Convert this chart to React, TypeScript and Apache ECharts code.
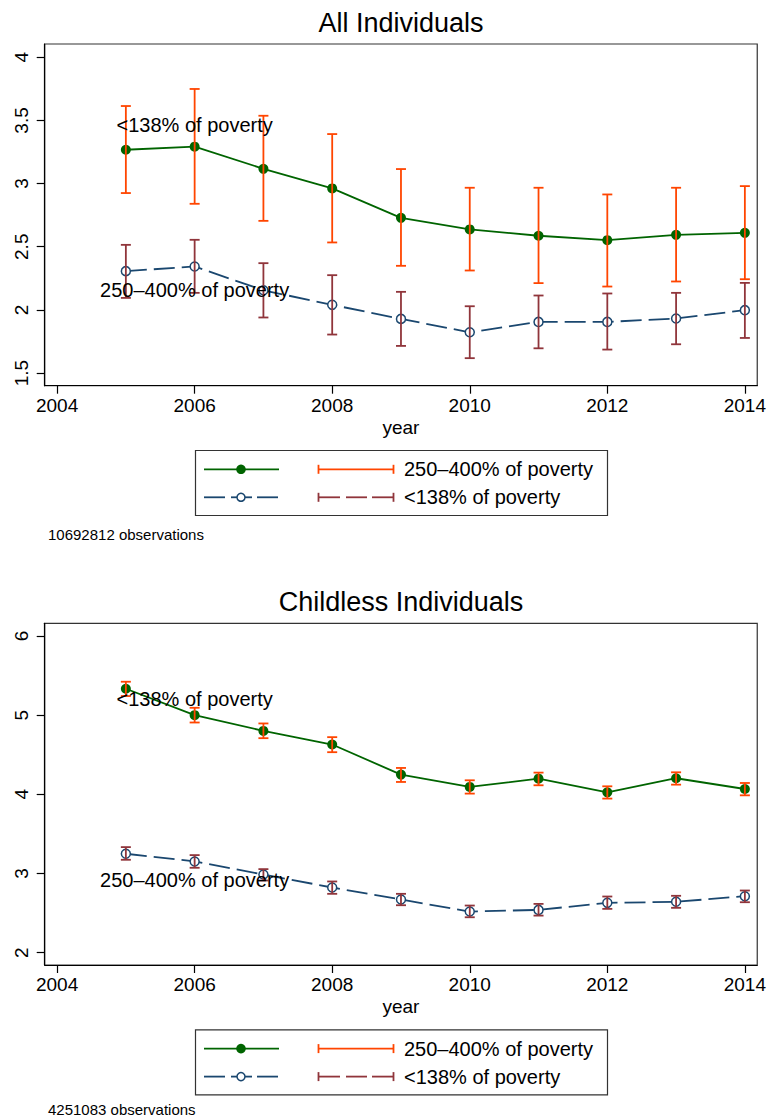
import React, { useEffect, useRef } from "react";
import * as echarts from "echarts";

// Survey years
const years = [2005, 2006, 2007, 2008, 2009, 2010, 2011, 2012, 2013, 2014];
const xTicks = [2004, 2006, 2008, 2010, 2012, 2014];

// All individuals
const allGreen = [3.268, 3.292, 3.117, 2.962, 2.729, 2.637, 2.587, 2.552, 2.594, 2.61];
const allGreenLo = [2.925, 2.84, 2.705, 2.534, 2.349, 2.312, 2.212, 2.185, 2.225, 2.243];
const allGreenHi = [3.614, 3.749, 3.537, 3.392, 3.115, 2.967, 2.967, 2.914, 2.967, 2.98];
const allBlue = [2.307, 2.344, 2.155, 2.04, 1.929, 1.823, 1.905, 1.905, 1.932, 1.998];
const allBlueLo = [2.095, 2.135, 1.94, 1.805, 1.715, 1.618, 1.696, 1.686, 1.728, 1.778];
const allBlueHi = [2.515, 2.555, 2.37, 2.275, 2.143, 2.029, 2.114, 2.13, 2.135, 2.214];
const allYTicks = [1.5, 2, 2.5, 3, 3.5, 4];

// Childless individuals
const clGreen = [5.333, 5.0, 4.801, 4.629, 4.249, 4.093, 4.198, 4.025, 4.203, 4.067];
const clGreenLo = [5.241, 4.907, 4.709, 4.532, 4.156, 4.009, 4.114, 3.946, 4.122, 3.987];
const clGreenHi = [5.422, 5.093, 4.895, 4.722, 4.333, 4.177, 4.274, 4.101, 4.278, 4.143];
const clBlue = [3.249, 3.152, 2.987, 2.823, 2.671, 2.519, 2.54, 2.629, 2.642, 2.713];
const clBlueLo = [3.173, 3.072, 2.911, 2.743, 2.599, 2.447, 2.468, 2.553, 2.566, 2.637];
const clBlueHi = [3.333, 3.232, 3.055, 2.899, 2.743, 2.595, 2.616, 2.709, 2.718, 2.785];
const clYTicks = [2, 3, 4, 5, 6];

// In-plot text labels: [year, value]
const labelLow = "<138% of poverty";
const labelMid = "250\u2013400% of poverty";
const allLabelPos = { low: [2006, 3.46], mid: [2006, 2.16] };
const clLabelPos = { low: [2006, 5.21], mid: [2006, 2.92] };

const titles = ["All Individuals", "Childless Individuals"];
const notes = ["10692812 observations", "4251083 observations"];

const GREEN = "#006400";
const ORANGE = "#ff4500";
const NAVY = "#1a476f";
const MAROON = "#90353b";
const FONT = "Liberation Sans, Arial, Helvetica, sans-serif";

const CAP = 5;

function errorBars(color: string, lo: number[], hi: number[], gi: number) {
  return {
    type: "custom",
    xAxisIndex: gi,
    yAxisIndex: gi,
    z: 4,
    data: years.map((y, i) => [y, lo[i], hi[i]]),
    encode: { x: 0, y: [1, 2] },
    renderItem: (_p: any, api: any) => {
      const x = api.value(0);
      const a = api.coord([x, api.value(1)]);
      const b = api.coord([x, api.value(2)]);
      const style = { stroke: color, lineWidth: 1.8 };
      return {
        type: "group",
        children: [
          { type: "line", shape: { x1: a[0], y1: a[1], x2: b[0], y2: b[1] }, style },
          { type: "line", shape: { x1: a[0] - CAP, y1: a[1], x2: a[0] + CAP, y2: a[1] }, style },
          { type: "line", shape: { x1: b[0] - CAP, y1: b[1], x2: b[0] + CAP, y2: b[1] }, style },
        ],
      };
    },
  };
}

function lineSeries(kind: "green" | "blue", vals: number[], gi: number) {
  const isGreen = kind === "green";
  return {
    type: "line",
    xAxisIndex: gi,
    yAxisIndex: gi,
    z: 3,
    data: years.map((y, i) => [y, vals[i]]),
    symbol: "circle",
    symbolSize: isGreen ? 10 : 9,
    showAllSymbol: true,
    itemStyle: isGreen
      ? { color: GREEN }
      : { color: "#ffffff", borderColor: NAVY, borderWidth: 1.5 },
    lineStyle: {
      color: isGreen ? GREEN : NAVY,
      width: 1.8,
      type: isGreen ? "solid" : [21, 7],
    },
  };
}

function textLabels(pos: { low: number[]; mid: number[] }, gi: number) {
  return {
    type: "scatter",
    xAxisIndex: gi,
    yAxisIndex: gi,
    z: 6,
    symbolSize: 0,
    silent: true,
    data: [
      { value: pos.low, name: labelLow },
      { value: pos.mid, name: labelMid },
    ],
    label: {
      show: true,
      position: "inside",
      formatter: (p: any) => p.name,
      color: "#000000",
      textBorderWidth: 0,
      opacity: 1,
      fontSize: 20,
      fontFamily: FONT,
    },
  };
}

function legendGraphics(dy: number) {
  const r1 = 469.3 + dy;
  const r2 = 497.3 + dy;
  const lw = 1.8;
  const seg = (x1: number, x2: number, y: number, c: string) => ({
    type: "line",
    shape: { x1, y1: y, x2, y2: y },
    style: { stroke: c, lineWidth: lw },
  });
  const vcap = (x: number, y: number, c: string) => ({
    type: "line",
    shape: { x1: x, y1: y - 4.5, x2: x, y2: y + 4.5 },
    style: { stroke: c, lineWidth: lw },
  });
  const txt = (t: string, y: number) => ({
    type: "text",
    x: 404,
    y,
    style: {
      text: t,
      fill: "#000",
      font: `20px ${FONT}`,
      textAlign: "left",
      textVerticalAlign: "middle",
    },
  });
  return [
    {
      type: "rect",
      shape: { x: 195.5, y: 450.5 + dy, width: 412, height: 65 },
      style: { fill: "#fff", stroke: "#333", lineWidth: 1.2 },
    },
    seg(204, 279, r1, GREEN),
    { type: "circle", shape: { cx: 241, cy: r1, r: 4.8 }, style: { fill: GREEN } },
    seg(318, 394, r1, ORANGE),
    vcap(318.5, r1, ORANGE),
    vcap(393.5, r1, ORANGE),
    txt(labelMid, r1),
    seg(204, 225, r2, NAVY),
    seg(231, 252, r2, NAVY),
    seg(257, 278, r2, NAVY),
    {
      type: "circle",
      shape: { cx: 241, cy: r2, r: 4 },
      style: { fill: "#fff", stroke: NAVY, lineWidth: 1.5 },
    },
    seg(318, 340, r2, MAROON),
    seg(346, 367, r2, MAROON),
    seg(372, 394, r2, MAROON),
    vcap(318.5, r2, MAROON),
    vcap(393.5, r2, MAROON),
    txt(labelLow, r2),
  ];
}

function panelGraphics(idx: number, dy: number, noteY: number) {
  return [
    {
      type: "text",
      x: 401,
      y: 22.5 + dy,
      style: {
        text: titles[idx],
        fill: "#000",
        font: `27px ${FONT}`,
        textAlign: "center",
        textVerticalAlign: "middle",
      },
    },
    ...legendGraphics(dy),
    {
      type: "text",
      x: 48,
      y: noteY,
      style: {
        text: notes[idx],
        fill: "#000",
        font: `15px ${FONT}`,
        textAlign: "left",
        textVerticalAlign: "middle",
      },
    },
  ];
}

function xAxis(gi: number) {
  return {
    type: "value",
    gridIndex: gi,
    min: 2003.82,
    max: 2014.18,
    name: "year",
    nameLocation: "middle",
    nameGap: 32,
    nameTextStyle: { color: "#000", fontSize: 19, fontFamily: FONT },
    axisLine: { show: true, lineStyle: { color: "#000", width: 1.2 } },
    axisTick: { show: true, length: 8, customValues: xTicks, lineStyle: { color: "#000", width: 1.2 } },
    axisLabel: {
      customValues: xTicks,
      formatter: (v: number) => String(v),
      color: "#000",
      fontSize: 19,
      fontFamily: FONT,
      margin: 10,
    },
    splitLine: { show: false },
  };
}

function yAxis(gi: number, min: number, max: number, ticks: number[]) {
  return {
    type: "value",
    gridIndex: gi,
    min,
    max,
    axisLine: { show: true, lineStyle: { color: "#000", width: 1.2 } },
    axisTick: { show: true, length: 8, customValues: ticks, lineStyle: { color: "#000", width: 1.2 } },
    axisLabel: {
      customValues: ticks,
      formatter: (v: number) => String(v),
      rotate: 90,
      color: "#000",
      fontSize: 19,
      fontFamily: FONT,
      margin: 14,
    },
    splitLine: { show: false },
  };
}

export default function App() {
  const ref = useRef<HTMLDivElement>(null);
  useEffect(() => {
    if (!ref.current) return;
    const chart = echarts.init(ref.current, undefined, { renderer: "svg" });
    const dy = 579.3;
    chart.setOption({
      animation: false,
      backgroundColor: "#ffffff",
      grid: [
        { left: 44.7, top: 44, width: 713.3, height: 341.7, show: true, borderColor: "#333", borderWidth: 1.2 },
        { left: 44.7, top: 44 + dy, width: 713.3, height: 341.7, show: true, borderColor: "#333", borderWidth: 1.2 },
      ],
      xAxis: [xAxis(0), xAxis(1)],
      yAxis: [yAxis(0, 1.4, 4.105, allYTicks), yAxis(1, 1.844, 6.16, clYTicks)],
      series: [
        lineSeries("green", allGreen, 0),
        lineSeries("blue", allBlue, 0),
        errorBars(ORANGE, allGreenLo, allGreenHi, 0),
        errorBars(MAROON, allBlueLo, allBlueHi, 0),
        textLabels(allLabelPos, 0),
        lineSeries("green", clGreen, 1),
        lineSeries("blue", clBlue, 1),
        errorBars(ORANGE, clGreenLo, clGreenHi, 1),
        errorBars(MAROON, clBlueLo, clBlueHi, 1),
        textLabels(clLabelPos, 1),
      ],
      graphic: [...panelGraphics(0, 0, 534), ...panelGraphics(1, dy, 1109)],
    });
    return () => chart.dispose();
  }, []);
  return (
    <div
      ref={ref}
      style={{ position: "absolute", left: 0, top: 0, width: 769, height: 1119, background: "#fff" }}
    />
  );
}
